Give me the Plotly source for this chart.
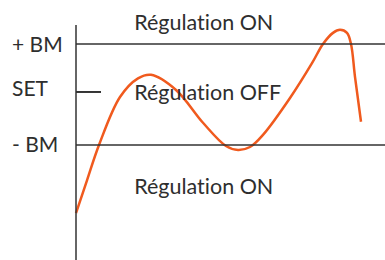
import plotly.graph_objects as go

# time (arbitrary units) and regulated level (in BM units: +BM = 1, -BM = -1)
time = [0, 11, 23, 44, 62, 75, 100, 127, 150, 162, 174, 187, 214, 236, 247,
        257, 264, 271, 275, 279, 285]
level = [-2.35, -1.70, -1.00, -0.05, 0.32, 0.39, 0.09, -0.56, -1.02, -1.10, -1.04,
         -0.80, -0.07, 0.62, 1.00, 1.22, 1.28, 1.22, 1.00, 0.35, -0.54]

threshold_names = ["+ BM", "SET", "- BM"]
threshold_values = [1.0, 0.05, -1.0]
label_y = [1.0, 0.13, -0.97]

zone_texts = ["Régulation ON", "Régulation OFF", "Régulation ON"]
zone_y = [1.44, 0.05, -1.81]

FONT = "Lato"
LINE = "#333333"
TXT = "#2e2e2e"
CURVE = "#f05a1e"

fig = go.Figure()
fig.add_trace(go.Scatter(x=time, y=level, mode="lines",
                         line=dict(color=CURVE, width=2.5, shape="spline", smoothing=1),
                         hoverinfo="skip", showlegend=False))

x_max = 309
y_top = 1.376
y_min, y_max = -3.277, 1.871

shapes = []
# vertical axis
shapes.append(dict(type="line", xref="x", yref="y", x0=0, x1=0, y0=y_min, y1=y_top,
                   line=dict(color=LINE, width=1.5)))
# +BM and -BM lines
for v in (threshold_values[0], threshold_values[2]):
    shapes.append(dict(type="line", xref="x", yref="y", x0=0, x1=x_max, y0=v, y1=v,
                       line=dict(color=LINE, width=1.3)))
# SET tick
shapes.append(dict(type="line", xref="x", yref="y", x0=0, x1=25,
                   y0=threshold_values[1], y1=threshold_values[1],
                   line=dict(color=LINE, width=2)))

annotations = []
for name, yy in zip(threshold_names, label_y):
    annotations.append(dict(x=-66, y=yy, xref="x", yref="y", text=name, showarrow=False,
                            xanchor="left", yanchor="middle",
                            font=dict(family=FONT, size=21, color=TXT)))
for t, yy in zip(zone_texts, zone_y):
    annotations.append(dict(x=56, y=yy, xref="x", yref="y", text=t, showarrow=False,
                            xanchor="left", yanchor="middle",
                            font=dict(family=FONT, size=21.5, color=TXT)))

fig.update_layout(
    width=385, height=260,
    margin=dict(l=0, r=0, t=0, b=0),
    paper_bgcolor="white", plot_bgcolor="white",
    shapes=shapes, annotations=annotations,
    xaxis=dict(range=[-76, x_max], visible=False, fixedrange=True),
    yaxis=dict(range=[y_min, y_max], visible=False, fixedrange=True),
)

post = (
    "document.body.style.margin='0';"
    "document.body.style.overflow='hidden';"
    "var s=document.createElement('style');"
    "s.textContent='svg text{font-variant-ligatures:none;font-feature-settings:\"liga\" 0;}';"
    "document.head.appendChild(s);"
)
fig.write_html("out.html", config={"displayModeBar": False}, post_script=post)
